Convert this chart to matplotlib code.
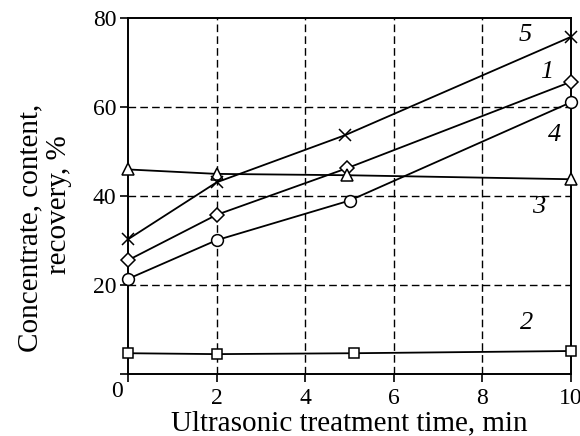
import matplotlib.pyplot as plt

plt.rcParams['font.family'] = ['Liberation Serif', 'DejaVu Serif']

# curve 1 (diamonds)
x1 = [0, 2, 4.95, 10]
y1 = [25.5, 35.7, 46.2, 65.6]
# curve 2 (squares)
x2 = [0, 2, 5.1, 10]
y2 = [4.6, 4.4, 4.6, 5.1]
# curve 3 (triangles)
x3 = [0, 2, 4.95, 10]
y3 = [45.9, 44.9, 44.6, 43.7]
# curve 4 (circles)
x4 = [0, 2, 5.0, 10]
y4 = [21.3, 30.0, 38.9, 61.0]
# curve 5 (crosses)
x5 = [0, 2, 4.9, 10]
y5 = [30.2, 43.0, 53.6, 75.7]

xticks = [0, 2, 4, 6, 8, 10]
xtick_labels = ['', '2', '4', '6', '8', '10']
yticks = [0, 20, 40, 60, 80]
ytick_labels = ['', '20', '40', '60', '80']


def graph():
    fig = plt.figure(figsize=(5.8, 4.36), dpi=100)
    ax = fig.add_axes([0.2207, 0.1429, 0.7638, 0.8165])

    dash = (0, (5.5, 3))
    for xv in [2, 4, 6, 8]:
        ax.axvline(xv, color='k', lw=1.0, ls=dash, zorder=1)
    for yv in [20, 40, 60]:
        ax.axhline(yv, color='k', lw=1.0, ls=dash, zorder=1)

    style = dict(color='k', lw=1.3, mfc='white', mec='k', mew=1.1, zorder=3,
                 clip_on=False)
    ax.plot(x1, y1, marker='D', ms=7.5, **style)
    ax.plot(x2, y2, marker='s', ms=7.5, **style)
    ax.plot(x3, y3, marker='^', ms=9, **style)
    ax.plot(x4, y4, marker='o', ms=8.5, **style)
    ax.plot(x5, y5, marker='x', ms=9, **style)

    lab = dict(fontsize=19, style='italic', ha='center', va='center')
    ax.text(8.96, 76.1, '5', **lab)
    ax.text(9.45, 67.9, '1', **lab)
    ax.text(9.64, 53.6, '4', **lab)
    ax.text(9.26, 37.5, '3', **lab)
    ax.text(9.0, 11.3, '2', **lab)

    ax.set_xlim(0, 10)
    ax.set_ylim(0, 80)
    ax.set_xticks(xticks)
    ax.set_xticklabels(xtick_labels)
    ax.set_yticks(yticks)
    ax.set_yticklabels(ytick_labels)
    ax.tick_params(direction='out', length=5.5, width=1.2, labelsize=17, colors='k')
    ax.tick_params(axis='y', pad=3)
    ax.tick_params(axis='x', pad=5)
    for s in ax.spines.values():
        s.set_linewidth(1.4)

    # origin label sits left of the axis
    fig.text(117 / 580, 1 - 391 / 436, '0', fontsize=17, ha='center', va='center')

    fig.text(0.6026, 0.0138, 'Ultrasonic treatment time, min', fontsize=21,
             ha='center', va='baseline')
    fig.text(0.053, 0.477, 'Concentrate, content,', fontsize=21, rotation=90,
             ha='center', va='center')
    fig.text(0.102, 0.53, 'recovery, %', fontsize=21, rotation=90,
             ha='center', va='center')

    fig.savefig('out.png', dpi=100)


if __name__ == '__main__':
    graph()
